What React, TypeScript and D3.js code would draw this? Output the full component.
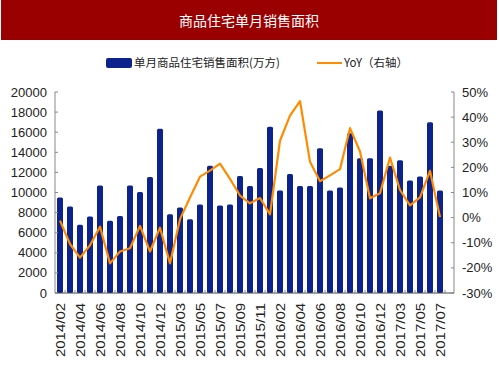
import React from "react";
import * as d3 from "d3";

const months: string[] = [
  "2014/02","2014/03","2014/04","2014/05","2014/06","2014/07","2014/08","2014/09","2014/10","2014/11","2014/12",
  "2015/02","2015/03","2015/04","2015/05","2015/06","2015/07","2015/08","2015/09","2015/10","2015/11","2015/12",
  "2016/02","2016/03","2016/04","2016/05","2016/06","2016/07","2016/08","2016/09","2016/10","2016/11","2016/12",
  "2017/02","2017/03","2017/04","2017/05","2017/06","2017/07",
];
const area: number[] = [
  9500, 8600, 6800, 7600, 10700, 7200, 7650, 10700, 10050, 11550, 16350,
  7830, 8500, 7350, 8800, 12650, 8700, 8800, 11650, 10650, 12450, 16550,
  10200, 11850, 10650, 10650, 14400, 10200, 10500, 15900, 13400, 13400, 18150,
  12650, 13200, 11200, 11600, 17000, 10200,
];
const yoy: number[] = [
  -1.2, -10.5, -15.9, -11, -3.6, -18.2, -13.5, -12.2, -3.3, -13.5, -4,
  -18.2, -0.6, 8, 16.3, 18.7, 21.5, 15.4, 8.8, 5.7, 7.8, 1.3,
  30.6, 40.6, 46.4, 22.2, 14.5, 16.8, 19.3, 35.6, 26.3, 7.7, 9.7,
  23.9, 11, 4.9, 8.1, 18.6, 0.2,
];
const leftTicks: number[] = [0, 2000, 4000, 6000, 8000, 10000, 12000, 14000, 16000, 18000, 20000];
const rightTicks: number[] = [-30, -20, -10, 0, 10, 20, 30, 40, 50];
const title = "商品住宅单月销售面积";
const barLabel = "单月商品住宅销售面积(万方)";
const lineLabel = "YoY（右轴）";

const W = 500, H = 375;
const L = 55, R = 454, T = 92, B = 293;
const BAR = "#0c228c";
const LINE = "#ff8c00";
const NARROW = "'Liberation Sans Narrow', 'Arial Narrow', Arial, sans-serif";
const SANS = "'Liberation Sans', Arial, sans-serif";
const CJK = "'Noto Sans CJK SC', sans-serif";

export default function App() {
  const x = d3.scaleBand<string>().domain(months).range([L, 445]).paddingInner(0.4).paddingOuter(0.2);
  const yL = d3.scaleLinear().domain([0, 20000]).range([B, T]);
  const yR = d3.scaleLinear().domain([-30, 50]).range([B, T]);
  const line = d3.line<number>()
    .x((_, i) => (x(months[i]) as number) + x.bandwidth() / 2)
    .y((d) => yR(d));
  const step = x.step();

  return (
    <svg width={W} height={H} style={{ position: "absolute", left: 0, top: 0, background: "#fff" }}>
      <rect x={1} y={0} width={496} height={40} fill="#9a0000" />
      <text x={249} y={26} textAnchor="middle" fill="#fff" fontSize={14} fontFamily={CJK}>{title}</text>

      {/* legend */}
      <rect x={106} y={58} width={26} height={10} rx={2} fill={BAR} />
      <text x={134} y={67} fontSize={11.5} fontFamily={CJK} fill="#222">{barLabel}</text>
      <line x1={317} x2={342} y1={63} y2={63} stroke={LINE} strokeWidth={2} />
      <text x={344} y={67} fontSize={11.5} fontFamily={CJK} fill="#222">{lineLabel}</text>

      {/* bars */}
      {area.map((v, i) => (
        <rect key={i} x={x(months[i])} y={yL(v)} width={x.bandwidth()} height={B - yL(v)} rx={1.5} fill={BAR} />
      ))}

      {/* line */}
      <path d={line(yoy) || ""} fill="none" stroke={LINE} strokeWidth={2.2} strokeLinejoin="round" />

      {/* axes */}
      <line x1={L} x2={L} y1={T} y2={B} stroke="#888" strokeWidth={1} />
      <line x1={R} x2={R} y1={T} y2={B} stroke="#888" strokeWidth={1} />
      <line x1={L} x2={R} y1={B} y2={B} stroke="#444" strokeWidth={1} />
      {leftTicks.map((t) => (
        <g key={"l" + t}>
          <line x1={L} x2={L + 3} y1={yL(t)} y2={yL(t)} stroke="#888" />
          <text x={47} y={yL(t) + 4.5} textAnchor="end" fontSize={13} fontFamily={NARROW} fill="#222">{t}</text>
        </g>
      ))}
      {rightTicks.map((t) => (
        <g key={"r" + t}>
          <line x1={R - 3} x2={R} y1={yR(t)} y2={yR(t)} stroke="#888" />
          <text x={462} y={yR(t) + 4.5} fontSize={13} fontFamily={NARROW} fill="#222">{t + "%"}</text>
        </g>
      ))}
      {months.map((m, i) => (
        <line key={"xt" + i} x1={L + step * (i + 1)} x2={L + step * (i + 1)} y1={B} y2={B - 3} stroke="#888" />
      ))}
      {months.map((m, i) =>
        i % 2 === 0 ? (
          <text
            key={"xl" + i}
            transform={`translate(${(x(m) as number) + x.bandwidth() / 2 + 4.5},303) rotate(-90)`}
            textAnchor="end"
            fontSize={13}
            fontFamily={SANS}
            textLength={54}
            lengthAdjust="spacingAndGlyphs"
            fill="#222"
          >
            {m}
          </text>
        ) : null
      )}
    </svg>
  );
}
